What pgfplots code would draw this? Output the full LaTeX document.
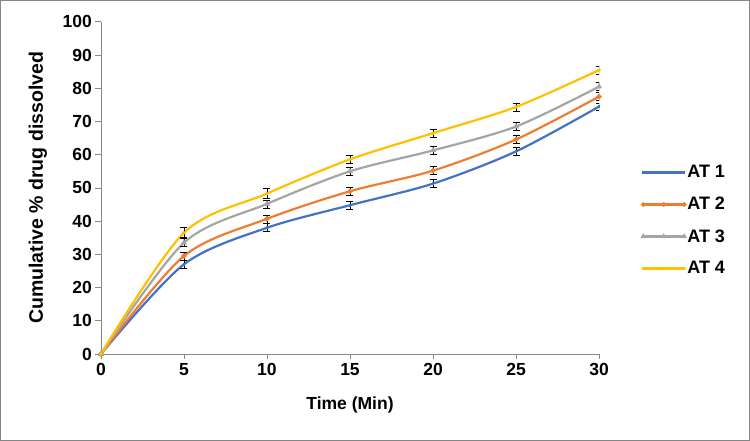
\documentclass[border=0pt]{standalone}
\usepackage{pgfplots}
\pgfplotsset{compat=1.18}
\usepackage{fontspec}
\setmainfont{Liberation Sans}
\definecolor{c1}{RGB}{68,114,196}
\definecolor{c2}{RGB}{237,125,49}
\definecolor{c3}{RGB}{165,165,165}
\definecolor{c4}{RGB}{255,192,0}
\definecolor{ax}{RGB}{134,134,134}
\begin{document}
\begin{tikzpicture}[x=1bp,y=1bp]
\draw[ax,line width=0.75bp] (0.5,0.5) rectangle (749.5,440.5);
\begin{axis}[
  at={(101bp,87bp)}, anchor=south west,
  scale only axis, width=498bp, height=332bp,
  xmin=0, xmax=30, ymin=0, ymax=100,
  xtick={0,5,...,30}, ytick={0,10,...,100},
  axis x line*=bottom, axis y line*=left,
  axis line style={ax, line width=0.75bp, -},
  tick style={ax, line width=0.75bp},
  tick align=outside, major tick length=5.5bp,
  ticklabel style={font=\fontsize{17.5bp}{19bp}\selectfont\bfseries},
  /pgf/number format/assume math mode=true,
  xlabel={\fontsize{17.5bp}{19bp}\selectfont\bfseries Time (Min)},
  ylabel={\fontsize{19.5bp}{21bp}\selectfont\bfseries Cumulative \% drug dissolved},
  xlabel style={at={(axis description cs:0.5,-0.154)}, anchor=center},
  ylabel style={at={(axis description cs:-0.1265,0.5)}, anchor=center},
  legend style={at={(1.086,0.574)}, anchor=north west, draw=none, fill=none,
    inner xsep=0pt, inner ysep=0pt,
    font=\fontsize{18bp}{20bp}\selectfont\bfseries, row sep=14bp},
  legend cell align=left,
  legend image code/.code={\draw[#1, line width=2.2bp, mark size=1.1bp] plot coordinates {(0bp,0bp) (20.5bp,0bp) (41bp,0bp)};},
  every axis plot/.append style={line width=2.2bp, smooth, tension=0.5, mark size=1.4bp,
    error bars/y dir=both, error bars/y explicit,
    error bars/error bar style={black, line width=0.6bp},
    error bars/error mark options={black, rotate=90, mark size=3.5bp, line width=0.6bp}},
]
\addplot[c1, mark=+] coordinates {(0,0) +- (0,0) (5,27) +- (0,1.2) (10,38) +- (0,1.2) (15,44.8) +- (0,1.2) (20,51.3) +- (0,1.2) (25,61) +- (0,1.2) (30,74.5) +- (0,1.0)};
\addplot[c2, mark=*] coordinates {(0,0) +- (0,0) (5,29.5) +- (0,1.2) (10,40.7) +- (0,1.2) (15,49) +- (0,1.2) (20,55.2) +- (0,1.2) (25,64.6) +- (0,1.2) (30,77.5) +- (0,1.2)};
\addplot[c3, mark=triangle*] coordinates {(0,0) +- (0,0) (5,33.5) +- (0,1.2) (10,45.2) +- (0,1.2) (15,55) +- (0,1.2) (20,61.3) +- (0,1.2) (25,68.5) +- (0,1.2) (30,80.5) +- (0,1.2)};
\addplot[c4, mark=x] coordinates {(0,0) +- (0,0) (5,36.5) +- (0,1.5) (10,48.3) +- (0,1.5) (15,58.6) +- (0,1.2) (20,66.5) +- (0,1.2) (25,74.4) +- (0,1.2) (30,85.5) +- (0,1.2)};
\legend{AT 1, AT 2, AT 3, AT 4}
\end{axis}
\end{tikzpicture}
\end{document}
